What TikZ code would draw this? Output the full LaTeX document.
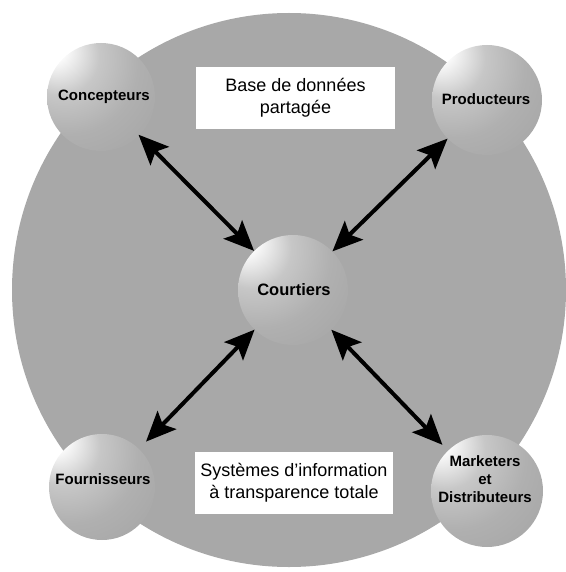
\documentclass[tikz,border=0pt]{standalone}
\usepackage{fontspec}
\setmainfont{Liberation Sans}
\usetikzlibrary{arrows.meta}

% Lit sphere: white highlight up and to the left, fading into the disc grey,
% with a darker band towards the lower right rim
\pgfdeclareradialshading{orb}{\pgfpoint{-24bp}{24bp}}{%
  color(0bp)=(white); color(5bp)=(white); color(18bp)=(black!22);
  color(32bp)=(black!31); color(55bp)=(black!37); color(70bp)=(black!45);
  color(84bp)=(black!38)}

\tikzset{
  headtip/.tip={Stealth[length=30pt,width=26pt,inset=6pt]},
  disc/.style={circle, fill=black!34, inner sep=0pt},
  orbnode/.style={circle, shading=orb, inner sep=0pt},
  lbl/.style={font=\fontsize{15}{18}\selectfont\bfseries, align=center, inner sep=0pt},
  panel/.style={fill=white, inner sep=0pt, align=center,
                font=\fontsize{18}{21.7}\selectfont},
  biarrow/.style={line width=4pt, headtip-headtip}
}

\begin{document}
\begin{tikzpicture}[x=1pt,y=-1pt]
\useasboundingbox (0,0) rectangle (565,572);

% large shared disc
\node[disc, minimum size=554pt] (base) at (289,290) {};

% spheres
\node[orbnode, minimum size=108pt] (conc) at (101,97) {};
\node[orbnode, minimum size=110pt] (prod) at (487,100) {};
\node[orbnode, minimum size=106pt] (four) at (102,487) {};
\node[orbnode, minimum size=112pt] (mark) at (487,491) {};
\node[orbnode, minimum size=110pt] (court) at (293,290) {};

% white panels
\node[panel, minimum width=199pt, minimum height=62pt] (db) at (295.5,98)
  {Base de données\\partagée};
\node[panel, minimum width=198pt, minimum height=62pt] (si) at (294,483)
  {Systèmes d'information\\à transparence totale};

% sphere labels
\node[lbl] (concL) at (104,97) {Concepteurs};
\node[lbl] (prodL) at (486,99) {Producteurs};
\node[lbl] (fourL) at (103,479) {Fournisseurs};
\node[lbl] (markL) at (485,479) {Marketers\\et\\Distributeurs};
\node[lbl, font=\fontsize{16.5}{19}\selectfont\bfseries] (courtL) at (294,290) {Courtiers};

% two-way links between the brokers and each partner
\draw[biarrow, shorten >=-1pt] (court) -- (conc);
\draw[biarrow] (court) -- (prod);
\draw[biarrow, shorten >=10pt] (court) -- (four);
\draw[biarrow, shorten >=8pt] (court) -- (mark);
\end{tikzpicture}
\end{document}
